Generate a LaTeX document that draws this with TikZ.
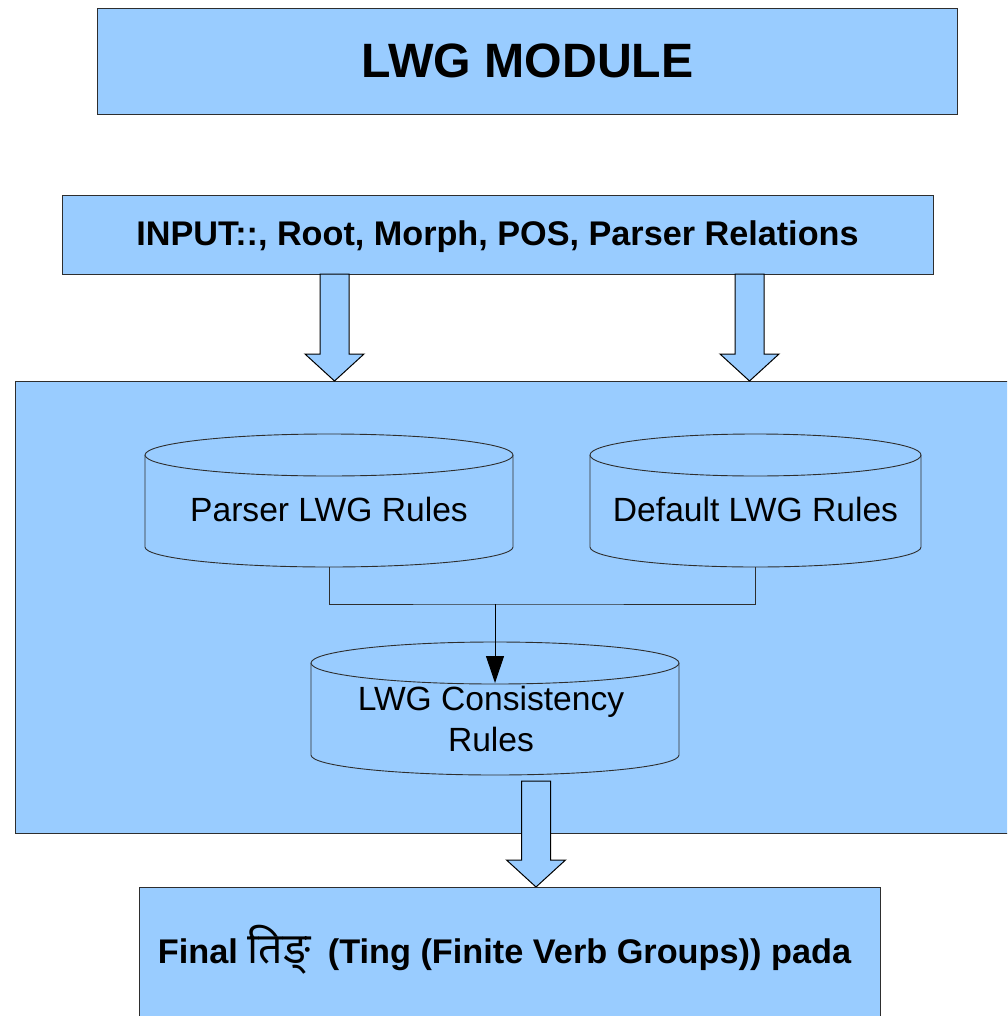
\documentclass[tikz,border=0pt]{standalone}
\usepackage{fontspec}
\usepackage{graphicx}
\setmainfont{Liberation Sans}
\newfontfamily\deva[Script=Devanagari]{Noto Sans}
\usetikzlibrary{arrows.meta}
\definecolor{boxblue}{HTML}{99CCFF}
\definecolor{edgegray}{HTML}{2E2E2E}

% drum (database) shape: left x, right x, y of the top ellipse centre, y where the sides end
\newcommand\drawdrum[4]{%
  \pgfmathsetmacro\drumrx{(#2-#1)/2}%
  \filldraw[drumline] (#1,#3) -- (#1,#4)
    arc[start angle=180,end angle=0,x radius=\drumrx,y radius=20] -- (#2,#3)
    arc[start angle=0,end angle=-180,x radius=\drumrx,y radius=21] -- cycle;
  \draw[drumline] (#1,#3) arc[start angle=180,end angle=0,x radius=\drumrx,y radius=21];
}

% broad downward arrow: centre x, top y, y where the head starts, tip y
\newcommand\blockdown[4]{%
  \draw[blockarrow] (#1-14.5,#2) -- (#1+14.5,#2) -- (#1+14.5,#3) -- (#1+29.5,#3)
    -- (#1,#4) -- (#1-29.5,#3) -- (#1-14.5,#3) -- cycle;
}

\begin{document}
\begin{tikzpicture}[x=1pt,y=-1pt,
  panel/.style={fill=boxblue,draw=edgegray,line width=1pt,inner sep=0pt,anchor=north west},
  drumline/.style={fill=boxblue,draw=edgegray,line width=0.9pt},
  blockarrow/.style={fill=boxblue,draw=black,line width=1pt,line join=miter},
  link/.style={draw=edgegray,line width=1pt},
  plaintxt/.style={anchor=base,inner sep=0pt,font=\fontsize{33.6}{41}\selectfont,align=center},
  boldtxt/.style={anchor=base,inner sep=0pt,font=\fontsize{34.2}{41}\selectfont\bfseries},
]
\useasboundingbox (0,0) rectangle (1007,1016);
\clip (0,0) rectangle (1007,1016);

% header
\node[panel,minimum width=860pt,minimum height=106pt] (title) at (97,8) {};
\node[anchor=base,inner sep=0pt,font=\fontsize{48.2}{50}\selectfont\bfseries] (titletxt) at (527.5,77.7) {LWG MODULE};

% input panel
\node[panel,minimum width=871pt,minimum height=79pt] (input) at (62,195) {};
\node[boldtxt] (inputtxt) at (497.5,245.7) {INPUT::, Root, Morph, POS, Parser Relations};

% module body
\node[panel,minimum width=1000pt,minimum height=452pt] (core) at (15,381) {};

\blockdown{334.5}{274}{354}{381}
\blockdown{749.5}{274}{354}{381}

% rule stores
\drawdrum{145}{513}{455}{547}
\drawdrum{590}{921}{455}{547}
\drawdrum{311}{679}{663}{755}
\node[plaintxt] (parser) at (329,521.7) {Parser LWG Rules};
\node[plaintxt] (default) at (755.5,521.7) {Default LWG Rules};
\node[plaintxt] (consist) at (491,751) {LWG Consistency\\Rules};

\coordinate (pbase) at (329,567);
\coordinate (dbase) at (755.5,567);
\coordinate (join) at (495,604);
\coordinate (ctop) at (495,683);
\draw[link] (pbase) |- (join) -| (dbase);
\draw[link,draw=black,-{Triangle[width=18pt,length=27pt]}] (join) -- (ctop);

\blockdown{536}{781}{860}{887}

% output panel
\node[panel,minimum width=741pt,minimum height=140pt] (output) at (139,887) {};
\node[boldtxt] (outputtxt) at (504.5,963) {\resizebox{693pt}{\height}{Final {\deva\scalebox{1.25}{तिङ्}}\hspace{8pt} (Ting (Finite Verb Groups)) pada}};
\end{tikzpicture}
\end{document}
